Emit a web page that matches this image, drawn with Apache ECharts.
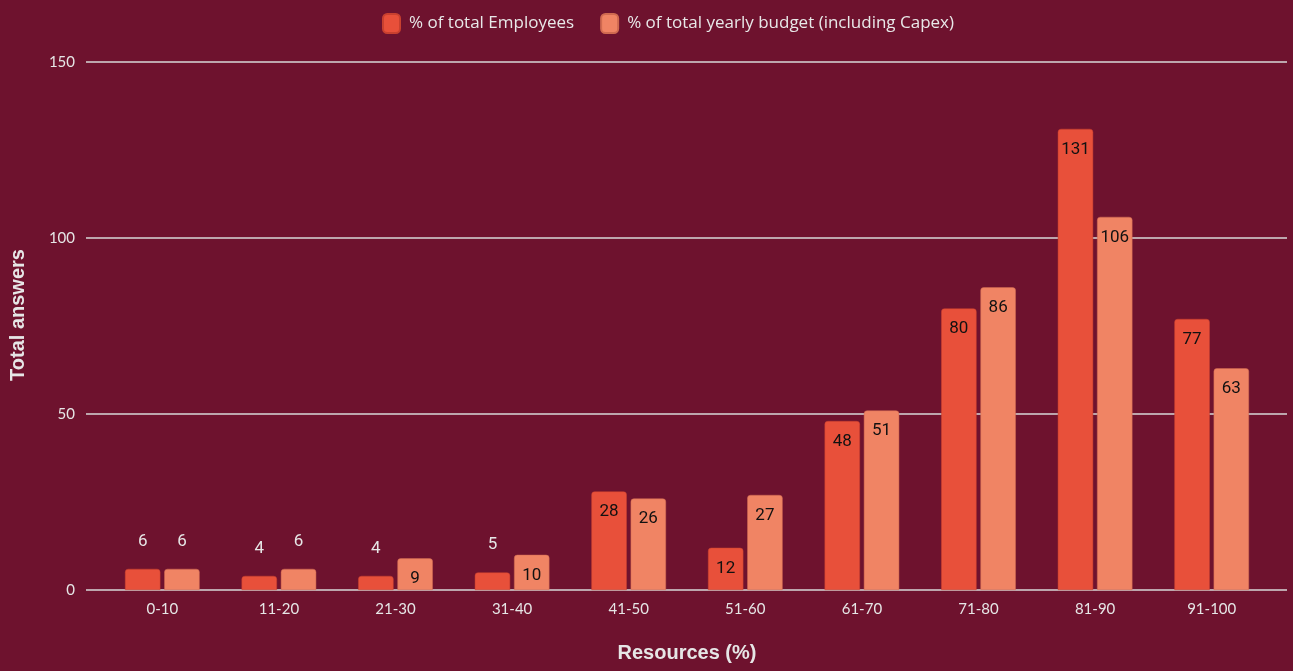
<!DOCTYPE html>
<html><head><meta charset="utf-8">
<script src="https://cdn.jsdelivr.net/npm/echarts@6/dist/echarts.min.js"></script>
<style>html,body{margin:0;padding:0;background:#6E122E;}#c{width:1293px;height:671px;}</style>
</head><body><div id="c"></div>
<script>
const categories = ['0-10','11-20','21-30','31-40','41-50','51-60','61-70','71-80','81-90','91-100'];
const employees = [6,4,4,5,28,12,48,80,131,77];
const budget = [6,6,9,10,26,27,51,86,106,63];
const yTicks = { min: 0, max: 150, interval: 50 };

function labelData(arr) {
  return arr.map(v => {
    const small = v < 8;
    return {
      value: v,
      label: small
        ? { position: 'top', distance: 19, color: '#E6E6E6' }
        : { position: 'insideTop', distance: 12, color: '#111' }
    };
  });
}

const titleFont = { color: '#E6E6E6', fontSize: 20, fontWeight: 'bold', fontFamily: 'Liberation Sans, sans-serif' };

const chart = echarts.init(document.getElementById('c'));
chart.setOption({
  backgroundColor: '#6E122E',
  textStyle: { fontFamily: 'Lato, sans-serif' },
  legend: {
    top: 8, left: 377, itemWidth: 17, itemHeight: 19, itemGap: 26,
    icon: 'roundRect',
    textStyle: { color: '#E8E8E8', fontSize: 17, fontFamily: 'Open Sans, sans-serif', padding: [0, 0, 0, 4] },
    data: ['% of total Employees', '% of total yearly budget (including Capex)']
  },
  grid: [
    { left: 104, right: 23, top: 62, bottom: 81 },
    { left: 84, right: 6, top: 62, bottom: 81 }
  ],
  xAxis: [
    {
      gridIndex: 0, type: 'category', data: categories,
      axisTick: { show: false }, axisLine: { show: false },
      axisLabel: { color: '#E6E6E6', fontSize: 15, margin: 12 },
      name: 'Resources (%)', nameLocation: 'middle', nameGap: 53,
      nameTextStyle: titleFont
    },
    { gridIndex: 1, type: 'value', show: false, min: 0, max: 1 }
  ],
  yAxis: [
    { gridIndex: 0, type: 'value', min: yTicks.min, max: yTicks.max, interval: yTicks.interval, show: false },
    {
      gridIndex: 1, type: 'value', min: yTicks.min, max: yTicks.max, interval: yTicks.interval,
      axisLine: { show: false }, axisTick: { show: false },
      axisLabel: { color: '#E6E6E6', fontSize: 15, margin: 11 },
      splitLine: { lineStyle: { color: '#D8D8D8', width: 1.5 } },
      name: 'Total answers', nameLocation: 'middle', nameGap: 58,
      nameTextStyle: Object.assign({}, titleFont, { padding: [0, 0, 0, 22] })
    }
  ],
  series: [
    {
      name: '% of total Employees', type: 'bar', xAxisIndex: 0, yAxisIndex: 0,
      data: labelData(employees), barGap: '11%', barCategoryGap: '36%',
      itemStyle: { color: '#E8503A', borderRadius: [3,3,0,0], borderColor: '#C8402F', borderWidth: 0.5 },
      label: { show: true, fontSize: 17, fontFamily: 'Roboto, sans-serif' }
    },
    {
      name: '% of total yearly budget (including Capex)', type: 'bar', xAxisIndex: 0, yAxisIndex: 0,
      data: labelData(budget),
      itemStyle: { color: '#F08464', borderRadius: [3,3,0,0], borderColor: '#D06A50', borderWidth: 0.5 },
      label: { show: true, fontSize: 17, fontFamily: 'Roboto, sans-serif' }
    }
  ]
});
</script></body></html>
